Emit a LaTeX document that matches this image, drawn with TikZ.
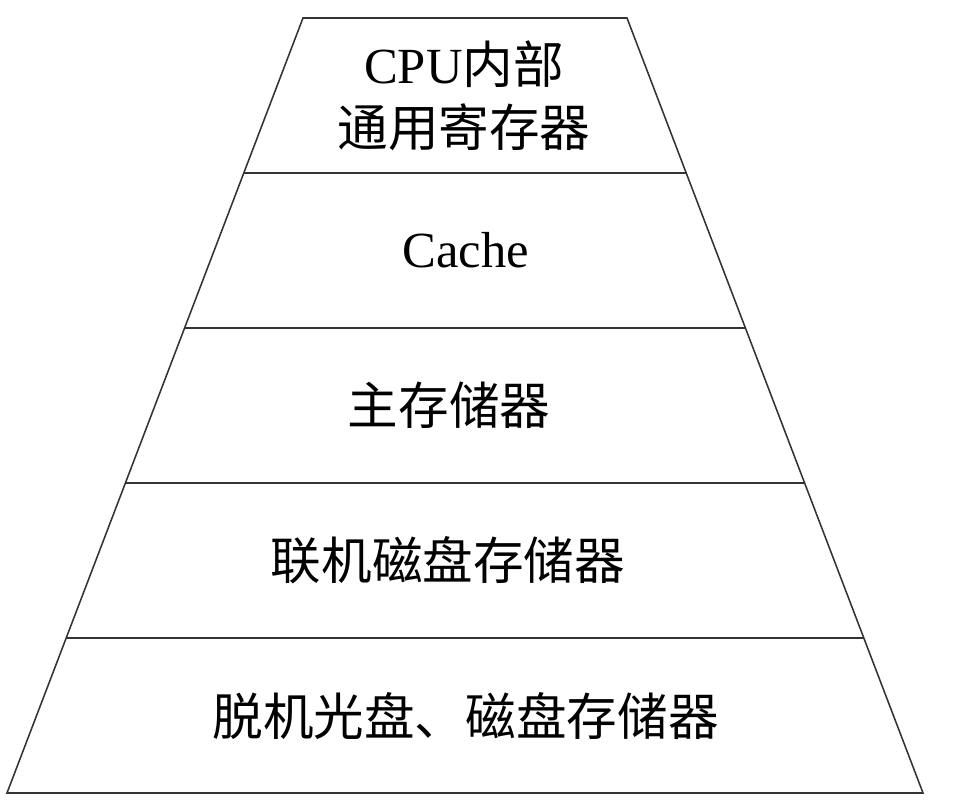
\documentclass[tikz,border=0pt]{standalone}
\usepackage{fontspec}
\setmainfont{Liberation Serif}
\newfontfamily\cjk{Noto Sans CJK SC}
\usetikzlibrary{calc}

\begin{document}
\begin{tikzpicture}
  [line_style/.style={draw=black!80,line width=1.1pt},
   label_style/.style={font=\fontsize{36}{45}\selectfont,align=center}]
  \useasboundingbox (0,0) rectangle (23.9,20.3);
  % corners of the pyramid
  \coordinate (tl) at (7.575,19.85);
  \coordinate (tr) at (15.675,19.85);
  \coordinate (bl) at (0.175,0.475);
  \coordinate (br) at (23.075,0.475);
  \draw[line_style] (tl) -- (tr) -- (br) -- (bl) -- cycle;
  % layer boundaries
  \foreach \f in {0.2,0.4,0.6,0.8}
    \draw[line_style] ($(tl)!\f!(bl)$) -- ($(tr)!\f!(br)$);
  % labels
  \node[label_style] (reg) at (11.6,17.91) {CPU{\cjk 内部}\\{\cjk 通用寄存器}};
  \node[label_style] (cache) at (11.64,14.04) {Cache};
  \node[label_style] (mem) at (11.23,10.16) {\cjk 主存储器};
  \node[label_style] (disk) at (11.2,6.29) {\cjk 联机磁盘存储器};
  \node[label_style] (off) at (11.64,2.41) {\cjk 脱机光盘、磁盘存储器};
\end{tikzpicture}
\end{document}
